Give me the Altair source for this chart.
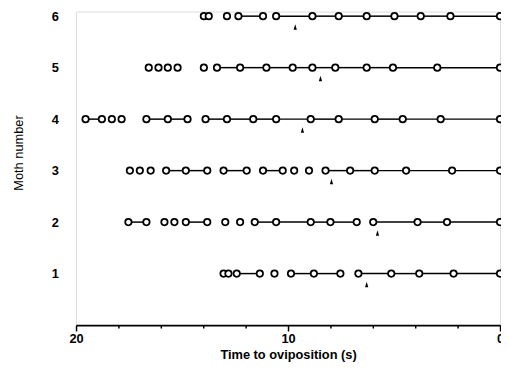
import altair as alt
import pandas as pd

moths = [1, 2, 3, 4, 5, 6]

times = {
    6: [13.97, 13.74, 12.88, 12.34, 11.18, 10.56, 8.85, 7.61, 6.29, 4.98, 3.74, 2.34, 0.0],
    5: [16.57, 16.11, 15.67, 15.21, 13.97, 13.35, 12.26, 11.02, 9.78, 8.85, 7.77, 6.29, 5.05, 2.96, 0.0],
    4: [19.55, 18.78, 18.31, 17.85, 16.68, 15.67, 14.74, 13.89, 12.88, 11.64, 10.56, 8.93, 7.61, 5.91, 4.59, 2.80, 0.0],
    3: [17.46, 16.99, 16.48, 15.75, 14.82, 13.81, 13.04, 11.95, 11.18, 10.25, 9.71, 9.01, 8.23, 7.07, 5.91, 4.43, 2.26, 0.0],
    2: [17.53, 16.68, 15.83, 15.36, 14.82, 13.81, 12.96, 12.26, 11.57, 10.56, 8.93, 8.00, 6.76, 5.98, 3.89, 2.50, 0.0],
    1: [13.04, 12.81, 12.42, 11.33, 10.64, 9.86, 8.78, 7.53, 6.68, 5.13, 3.81, 2.19, 0.0],
}

# 1 = circle joined to the next one by a line
links = {
    6: [0, 0, 0, 1, 0, 1, 1, 1, 1, 1, 1, 1],
    5: [0, 0, 0, 0, 0, 1, 1, 1, 1, 1, 1, 1, 1, 1],
    4: [1, 0, 0, 0, 1, 1, 0, 1, 1, 1, 1, 1, 1, 1, 1, 1],
    3: [0, 0, 0, 1, 1, 0, 1, 0, 1, 0, 0, 0, 1, 1, 1, 1, 1],
    2: [1, 0, 0, 0, 1, 0, 0, 0, 1, 1, 1, 1, 0, 1, 1, 1],
    1: [0, 0, 1, 0, 0, 1, 1, 0, 1, 1, 1, 1],
}

arrow_times = [6.29, 5.78, 7.95, 9.32, 8.47, 9.66]  # moths 1..6

x_ticks = list(range(0, 21))
x_labels = [0, 5, 10, 15, 20]
y_labels = [1, 2, 3, 4, 5, 6]

pts = []
segs = []
for m in moths:
    t = times[m]
    for v in t:
        pts.append({"moth": m, "t": v})
    for i, l in enumerate(links[m]):
        if l:
            segs.append({"moth": m, "t": t[i], "t2": t[i + 1]})
pts = pd.DataFrame(pts)
segs = pd.DataFrame(segs)
arr = pd.DataFrame({"moth": moths, "t": arrow_times})

FONT = "Liberation Sans"

xscale = alt.Scale(domain=[20, 0], nice=False, zero=False)
yscale = alt.Scale(domain=[0, 6.09], nice=False, zero=False)

xaxis = alt.Axis(
    values=x_ticks,
    labelExpr="datum.value % 5 === 0 ? datum.label : ''",
    tickSize=alt.ExprRef("datum.value % 5 === 0 ? 6 : 3"),
    tickColor="black",
    tickWidth=1.5,
    domainColor="black",
    domainWidth=1.8,
    grid=False,
    labelFont=FONT,
    labelFontSize=13,
    labelFontWeight="bold",
    labelColor="black",
    labelPadding=2,
    labelFlush=False,
    labelOverlap=False,
    title="Time to oviposition (s)",
    titleFont=FONT,
    titleFontSize=13,
    titleFontWeight="bold",
    titleColor="black",
    titlePadding=3,
)

yaxis = alt.Axis(
    values=y_labels,
    domain=False,
    ticks=False,
    grid=False,
    labelFont=FONT,
    labelFontSize=13,
    labelFontWeight="bold",
    labelColor="black",
    labelPadding=18,
    title="Moth number",
    titleFont=FONT,
    titleFontSize=13,
    titleFontWeight="normal",
    titleColor="black",
    titlePadding=26,
    titleY=143,
)

lines = alt.Chart(segs).mark_rule(color="black", strokeWidth=1.5).encode(
    x=alt.X("t:Q", scale=xscale, axis=xaxis),
    x2="t2:Q",
    y=alt.Y("moth:Q", scale=yscale, axis=yaxis),
)

circles = alt.Chart(pts).mark_point(
    shape="circle", filled=True, fill="white", stroke="black", strokeWidth=1.8, size=42, opacity=1
).encode(
    x=alt.X("t:Q", scale=xscale),
    y=alt.Y("moth:Q", scale=yscale),
)

arrows = alt.Chart(arr).mark_point(
    shape="M0,-1L0.6,1L-0.6,1Z", filled=True, color="black", size=30, yOffset=11, opacity=1
).encode(
    x=alt.X("t:Q", scale=xscale),
    y=alt.Y("moth:Q", scale=yscale),
)

chart = alt.layer(lines, circles, arrows).properties(
    width=430,
    height=318,
    autosize=alt.AutoSizeParams(type="none"),
    padding={"left": 69, "top": 1, "right": 1, "bottom": 44},
).configure_view(stroke=None).configure(background="white")

chart.save("out.html", embed_options={"renderer": "svg", "actions": False})
